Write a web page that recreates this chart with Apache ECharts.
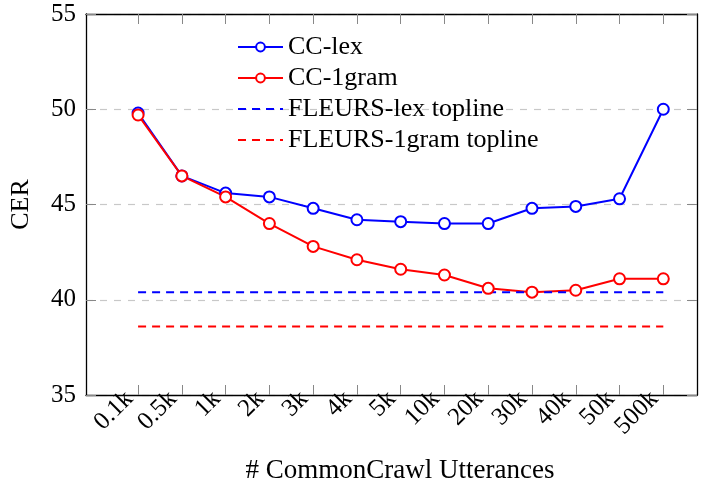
<!DOCTYPE html>
<html>
<head>
<meta charset="utf-8">
<script src="https://cdn.jsdelivr.net/npm/echarts@6/dist/echarts.min.js"></script>
<style>html,body{margin:0;padding:0;background:#fff}#chart{width:710px;height:487px}</style>
</head>
<body>
<div id="chart"></div>
<script>
//数据
var labs = ['0.1k','0.5k','1k','2k','3k','4k','5k','10k','20k','30k','40k','50k','500k'];
var ccLex = [49.8,46.5,45.6,45.4,44.8,44.2,44.1,44.0,44.0,44.8,44.9,45.3,50.0];
var cc1gram = [49.7,46.5,45.4,44.0,42.8,42.1,41.6,41.3,40.6,40.4,40.5,41.1,41.1];
var fleursLex = 40.4;
var fleurs1gram = 38.6;
var names = ['CC-lex','CC-1gram','FLEURS-lex topline','FLEURS-1gram topline'];

var font = 'Liberation Serif';
var idx = labs.map(function(l,i){return i;});

function pairs(arr){
	return arr.map(function(v,i){return [i,v];});
}
function flat(v){
	return [[0,v],[labs.length-1,v]];
}

var myChart = echarts.init(document.getElementById('chart'));
var axisLine = {show:true, onZero:false, lineStyle:{color:'#000', width:1.3}};
var tick = {show:true, inside:true, length:10, lineStyle:{color:'#888', width:1}};
var xtick = {show:true, inside:true, length:10, customValues: idx, lineStyle:{color:'#888', width:1}};

option = {
	animation: false,
	textStyle: {fontFamily: font},
	title: {
		text: '# CommonCrawl Utterances',
		left: 400,
		top: 457,
		textAlign: 'center',
		padding: 0,
		textStyle: {fontFamily:font, fontSize:27, fontWeight:'normal', color:'#000'}
	},
	grid: {left:83, right:13, top:14, bottom:92, containLabel:false},
	legend: {
		orient: 'vertical',
		left: 237,
		top: 34,
		padding: 0,
		itemWidth: 45,
		itemHeight: 11,
		itemGap: 5,
		itemTextGap: 6,
		data: [
			{name: names[0]},
			{name: names[1]},
			{name: names[2], itemStyle:{opacity:0}},
			{name: names[3], itemStyle:{opacity:0}}
		],
		textStyle: {fontFamily:font, fontSize:26, color:'#000', lineHeight:25}
	},
	xAxis: [
		{
			type: 'value',
			min: -1.19,
			max: 12.77,
			position: 'bottom',
			axisLine: axisLine,
			axisTick: xtick,
			axisLabel: {
				customValues: idx,
				rotate: 45,
				margin: 9,
				verticalAlign: 'bottom',
				fontFamily: font,
				fontSize: 25,
				color: '#000',
				formatter: function(v){return labs[v];}
			},
			splitLine: {show:false}
		},
		{
			type: 'value',
			min: -1.19,
			max: 12.77,
			position: 'top',
			axisLine: axisLine,
			axisTick: xtick,
			axisLabel: {show:false},
			splitLine: {show:false}
		}
	],
	yAxis: [
		{
			type: 'value',
			min: 35,
			max: 55,
			interval: 5,
			name: 'CER',
			nameLocation: 'middle',
			nameGap: 52,
			nameTextStyle: {fontFamily:font, fontSize:26, color:'#000'},
			axisLine: axisLine,
			axisTick: tick,
			axisLabel: {margin:10, fontFamily:font, fontSize:25, color:'#000'},
			splitLine: {show:true, lineStyle:{color:'#c8c8c8', type:[7,7], width:1.2}}
		},
		{
			type: 'value',
			min: 35,
			max: 55,
			interval: 5,
			position: 'right',
			axisLine: axisLine,
			axisTick: tick,
			axisLabel: {show:false},
			splitLine: {show:false}
		}
	],
	series: [
		{
			name: names[0],
			type: 'line',
			data: pairs(ccLex),
			color: '#0000ff',
			symbol: 'emptyCircle',
			symbolSize: 11,
			lineStyle: {width:2},
			itemStyle: {borderWidth:2}
		},
		{
			name: names[1],
			type: 'line',
			data: pairs(cc1gram),
			color: '#ff0000',
			symbol: 'emptyCircle',
			symbolSize: 11,
			lineStyle: {width:2},
			itemStyle: {borderWidth:2}
		},
		{
			name: names[2],
			type: 'line',
			data: flat(fleursLex),
			color: '#0000ff',
			symbol: 'none',
			lineStyle: {width:2, type:[8,6]}
		},
		{
			name: names[3],
			type: 'line',
			data: flat(fleurs1gram),
			color: '#ff0000',
			symbol: 'none',
			lineStyle: {width:2, type:[8,6]}
		}
	]
};
myChart.setOption(option);
</script>
</body>
</html>
